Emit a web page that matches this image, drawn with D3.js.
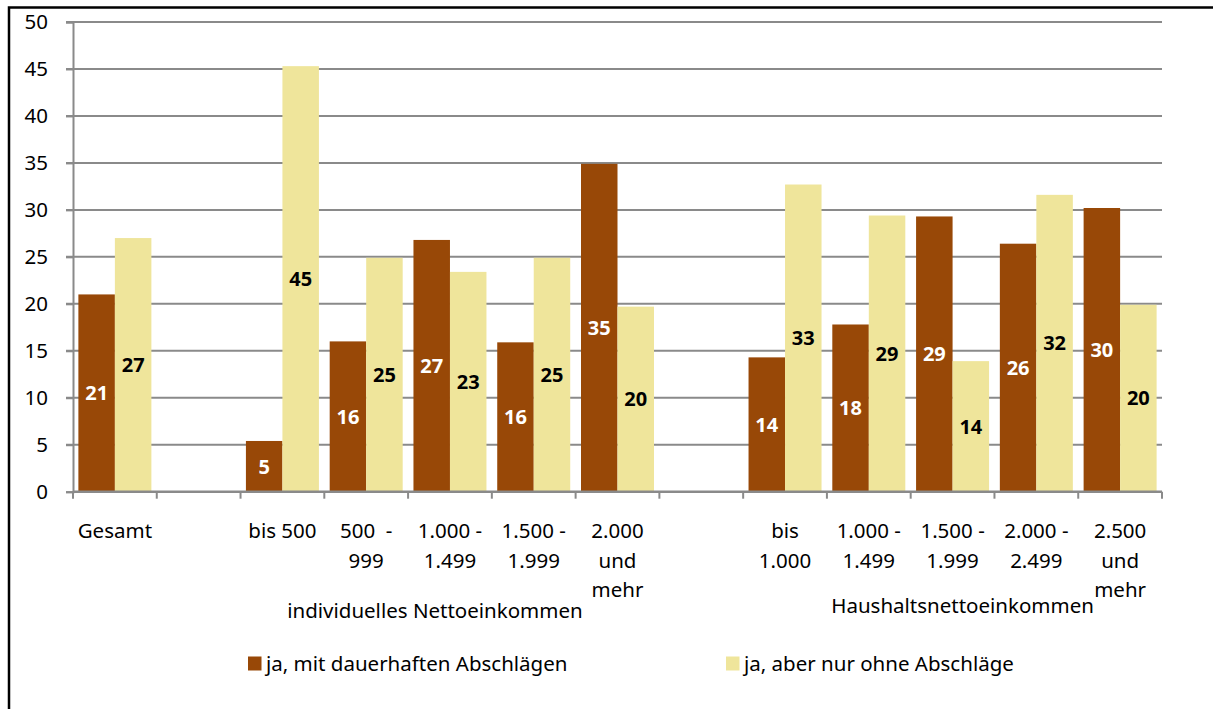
<!DOCTYPE html>
<html>
<head>
<meta charset="utf-8">
<script src="https://cdn.jsdelivr.net/npm/d3@7"></script>
<style>
  html, body { margin: 0; padding: 0; background: #fff; }
  svg { display: block; }
  text { font-family: "Noto Sans", "Open Sans", sans-serif; fill: #000; }
</style>
</head>
<body>
<svg id="chart" width="1213" height="709"></svg>
<script>
// Category labels (lines separated by \n); empty strings are spacer slots
const categories = [
  "Gesamt", "",
  "bis 500", "500  -\n999", "1.000 -\n1.499", "1.500 -\n1.999", "2.000\nund\nmehr",
  "",
  "bis\n1.000", "1.000 -\n1.499", "1.500 -\n1.999", "2.000 -\n2.499", "2.500\nund\nmehr"
];

const seriesNames = ["ja, mit dauerhaften Abschlägen", "ja, aber nur ohne Abschläge"];

// Percentages per category (null = spacer slot)
const mitAbschlaegen  = [21.0, null, 5.4, 16.0, 26.8, 15.9, 34.9, null, 14.3, 17.8, 29.3, 26.4, 30.2];
const ohneAbschlaege  = [27.0, null, 45.3, 24.9, 23.4, 24.9, 19.7, null, 32.7, 29.4, 13.9, 31.6, 19.9];

const yTicks = [0, 5, 10, 15, 20, 25, 30, 35, 40, 45, 50];

const groupTitles = [
  { text: "individuelles Nettoeinkommen", from: 2, to: 6, dx: -15, dy: 0 },
  { text: "Haushaltsnettoeinkommen", from: 8, to: 12, dx: 10, dy: -5 }
];

const colors = ["#984807", "#EFE59B"];
const labelColors = ["#ffffff", "#000000"];
const seriesValues = [mitAbschlaegen, ohneAbschlaege];

const svg = d3.select("#chart");

// Plot area
const plotLeft = 73, plotRight = 1162, plotTop = 22, plotBottom = 491.7;

const x0 = d3.scaleBand().domain(d3.range(categories.length)).range([plotLeft, plotRight]).padding(0);
const x1 = d3.scaleBand().domain([0, 1]).range([0, x0.bandwidth()]).paddingInner(0).paddingOuter(0.1475);
const y = d3.scaleLinear().domain([0, 50]).range([plotBottom, plotTop]);

// Outer frame (left and top edges)
svg.append("path")
  .attr("d", "M9,709 L9,7.5 L1213,7.5")
  .attr("fill", "none")
  .attr("stroke", "#000")
  .attr("stroke-width", 2.5);

// Horizontal gridlines
svg.append("g")
  .selectAll("line")
  .data(yTicks.filter(d => d > 0))
  .join("line")
  .attr("x1", plotLeft - 7).attr("x2", plotRight)
  .attr("y1", d => y(d)).attr("y2", d => y(d))
  .attr("stroke", "#8a8a8a")
  .attr("stroke-width", 2);

// Y axis
const yAxis = svg.append("g")
  .attr("transform", `translate(${plotLeft},0)`)
  .call(d3.axisLeft(y).tickValues(yTicks).tickSize(7).tickPadding(18).tickFormat(d3.format("d")));
yAxis.select(".domain").attr("stroke", "#8a8a8a").attr("stroke-width", 2);
yAxis.selectAll(".tick line").attr("stroke", "#8a8a8a").attr("stroke-width", 2);
yAxis.selectAll(".tick text")
  .attr("font-size", 20.5)
  .attr("font-family", "Noto Sans")
  .attr("fill", "#000");

// Bars
const slots = svg.append("g")
  .selectAll("g")
  .data(categories.map((c, i) => i))
  .join("g")
  .attr("transform", i => `translate(${x0(i)},0)`);

slots.selectAll("rect")
  .data(i => seriesValues.map((vals, s) => ({ s, v: vals[i] })).filter(d => d.v != null))
  .join("rect")
  .attr("x", d => x1(d.s))
  .attr("width", x1.bandwidth())
  .attr("y", d => y(d.v))
  .attr("height", d => y(0) - y(d.v))
  .attr("fill", d => colors[d.s]);

// Value labels centred in each bar
slots.selectAll("text")
  .data(i => seriesValues.map((vals, s) => ({ s, v: vals[i] })).filter(d => d.v != null))
  .join("text")
  .attr("x", d => x1(d.s) + x1.bandwidth() / 2)
  .attr("y", d => (y(d.v) + y(0)) / 2)
  .attr("dy", "0.36em")
  .attr("text-anchor", "middle")
  .attr("font-size", 20)
  .attr("font-weight", "bold")
  .style("fill", d => labelColors[d.s])
  .text(d => d3.format(".0f")(d.v));

// X axis with category ticks at slot boundaries
const xAxisG = svg.append("g");
xAxisG.append("line")
  .attr("x1", plotLeft).attr("x2", plotRight)
  .attr("y1", plotBottom).attr("y2", plotBottom)
  .attr("stroke", "#8a8a8a").attr("stroke-width", 2.5);
xAxisG.selectAll("line.tick")
  .data(d3.range(categories.length + 1))
  .join("line")
  .attr("class", "tick")
  .attr("x1", i => i < categories.length ? x0(i) : plotRight)
  .attr("x2", i => i < categories.length ? x0(i) : plotRight)
  .attr("y1", plotBottom).attr("y2", plotBottom + 7)
  .attr("stroke", "#8a8a8a").attr("stroke-width", 2);

// Category labels (multi-line)
const catLabels = xAxisG.selectAll("text.cat")
  .data(categories.map((c, i) => ({ i, lines: c ? c.split("\n") : [] })))
  .join("text")
  .attr("class", "cat")
  .attr("text-anchor", "middle")
  .attr("font-size", 20.5)
  .attr("transform", d => `translate(${x0(d.i) + x0.bandwidth() / 2},538)`);
catLabels.selectAll("tspan")
  .data(d => d.lines)
  .join("tspan")
  .attr("x", 0)
  .attr("y", (d, k) => k * 29.5)
  .style("white-space", "pre")
  .text(d => d);

// Group titles under the categories
svg.append("g")
  .selectAll("text")
  .data(groupTitles)
  .join("text")
  .attr("x", d => (x0(d.from) + x0(d.to) + x0.bandwidth()) / 2 + d.dx)
  .attr("y", d => 618 + d.dy)
  .attr("text-anchor", "middle")
  .attr("font-size", 20.5)
  .text(d => d.text);

// Legend
const legendX = [248, 726];
const legend = svg.append("g")
  .selectAll("g")
  .data(seriesNames)
  .join("g")
  .attr("transform", (d, i) => `translate(${legendX[i]},656.5)`);
legend.append("rect")
  .attr("width", 13.5).attr("height", 14)
  .attr("fill", (d, i) => colors[i]);
legend.append("text")
  .attr("x", 18).attr("y", 14)
  .attr("font-size", 20.5)
  .text(d => d);
</script>
</body>
</html>
